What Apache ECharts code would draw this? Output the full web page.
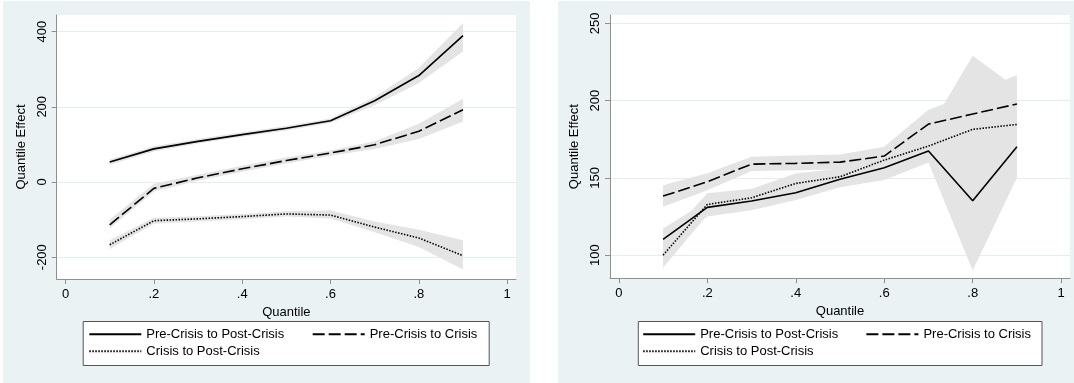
<!DOCTYPE html>
<html><head><meta charset="utf-8">
<script src="https://cdn.jsdelivr.net/npm/echarts@6/dist/echarts.min.js"></script>
<style>
html,body{margin:0;padding:0;background:#fff;width:1074px;height:383px;overflow:hidden}
#c1{position:absolute;left:3px;top:1px;width:527px;height:382px;background:#eaf2f3}
#c2{position:absolute;left:558px;top:1px;width:516px;height:382px;background:#eaf2f3}
</style></head><body>
<div id="c1"></div><div id="c2"></div>
<script>
const quantiles = [0.1, 0.2, 0.3, 0.4, 0.5, 0.6, 0.7, 0.8, 0.9];
const xTicks = [0, 0.2, 0.4, 0.6, 0.8, 1];
const xTickLabels = ['0', '.2', '.4', '.6', '.8', '1'];
const seriesNames = ['Pre-Crisis to Post-Crisis', 'Pre-Crisis to Crisis', 'Crisis to Post-Crisis'];

// Left panel
const leftYTicks = [-200, 0, 200, 400];
const leftYTickLabels = ['-200', '0', '200', '400'];
const leftPrePost   = [53, 88, 108, 126, 143, 163, 216, 283, 389];
const leftPrePostLo = [46, 81, 102, 120, 137, 157, 204, 263, 347];
const leftPrePostHi = [60, 95, 114, 132, 149, 169, 226, 303, 423];
const leftPreCrisis   = [-114, -17, 11, 35, 57, 77, 99, 135, 192];
const leftPreCrisisLo = [-124, -25, 3, 27, 49, 70, 88, 114, 161];
const leftPreCrisisHi = [-100, -5, 19, 43, 65, 84, 108, 155, 221];
const leftCrisisPost   = [-167, -103, -98, -92, -85, -88, -120, -149, -196];
const leftCrisisPostLo = [-178, -111, -105, -99, -92, -97, -134, -173, -233];
const leftCrisisPostHi = [-155, -95, -91, -85, -78, -76, -105, -127, -155];

// Right panel
const rightYTicks = [100, 150, 200, 250];
const rightYTickLabels = ['100', '150', '200', '250'];
const rightPrePost   = [110.2, 130.9, 135, 140.4, 149.1, 156.5, 167.4, 135.2, 170.1];
const rightPrePostLo = [103, 125, 129, 135.6, 144, 148.6, 160, 90, 150];
const rightPrePostHi = [117.3, 135, 139, 145, 154, 161, 181, 229, 208];
const rightPreCrisis   = [138.2, 147.5, 158.9, 159.4, 160.2, 164.1, 184.8, 191.3, 197.8];
const rightPreCrisisLo = [131.3, 142, 154.4, 155, 155.5, 158.5, 176, 176, 179];
const rightPreCrisisHi = [145.3, 153, 163.7, 164.5, 165.2, 170.1, 194, 205, 216.6];
const rightCrisisPost   = [100, 132.8, 137.1, 146.4, 150.7, 161.5, 170.6, 181.4, 184.6];
const rightCrisisPostLo = [91.8, 126, 132, 140, 145, 155, 163, 167, 160];
const rightCrisisPostHi = [108, 140, 143, 152.9, 156, 168, 180, 196, 205];

const FONT = '"Liberation Sans", Arial, sans-serif';
const AXIS_COLOR = '#8f8f8f';
const lineTypes = ['solid', [12, 4], [1.5, 1.5]];

function labelFor(ticks, labels) {
  return function (v) {
    let best = 0;
    for (let i = 1; i < ticks.length; i++) if (Math.abs(ticks[i] - v) < Math.abs(ticks[best] - v)) best = i;
    return labels[best];
  };
}

function buildOption(cfg) {
  const bands = cfg.bands.map(function (b) {
    return {
      type: 'custom', silent: true, z: 1, animation: false,
      data: quantiles.map(function (q, i) { return [q, b.lo[i], b.hi[i]]; }),
      encode: { x: 0, y: [1, 2] },
      renderItem: function (params, api) {
        if (params.dataIndex !== 0) return;
        const pts = [];
        for (let i = 0; i < quantiles.length; i++) pts.push(api.coord([quantiles[i], b.hi[i]]));
        for (let i = quantiles.length - 1; i >= 0; i--) pts.push(api.coord([quantiles[i], b.lo[i]]));
        return { type: 'polygon', shape: { points: pts }, style: { fill: '#e4e4e4' } };
      }
    };
  });
  const lines = cfg.lines.map(function (vals, k) {
    return {
      type: 'line', name: seriesNames[k], z: 3, silent: true, animation: false,
      data: quantiles.map(function (q, i) { return [q, vals[i]]; }),
      symbol: 'none',
      itemStyle: { color: '#000' },
      lineStyle: { color: '#000', width: 1.6, type: lineTypes[k] }
    };
  });
  const legendCommon = {
    orient: 'vertical', itemWidth: 52, itemHeight: 14, itemGap: 4, padding: 0,
    selectedMode: false,
    itemStyle: { opacity: 0, borderWidth: 0 },
    textStyle: { fontSize: 13, color: '#000', fontFamily: FONT }
  };
  return {
    animation: false,
    grid: { left: cfg.grid.left, top: cfg.grid.top, width: cfg.grid.width, height: cfg.grid.height,
            show: true, backgroundColor: '#fff', borderWidth: 0 },
    xAxis: {
      type: 'value', min: -0.02, max: 1.02,
      name: 'Quantile', nameLocation: 'middle', nameGap: 21,
      nameTextStyle: { fontSize: 13, color: '#000', fontFamily: FONT },
      axisLine: { show: true, onZero: false, lineStyle: { color: AXIS_COLOR, width: 1 } },
      axisTick: { show: true, length: 5, customValues: xTicks, lineStyle: { color: AXIS_COLOR } },
      axisLabel: { customValues: xTicks, formatter: labelFor(xTicks, xTickLabels), margin: 9,
                   fontSize: 13, color: '#000', fontFamily: FONT },
      splitLine: { show: false }
    },
    yAxis: {
      type: 'value', min: cfg.yMin, max: cfg.yMax,
      name: 'Quantile Effect', nameLocation: 'middle', nameGap: 23,
      nameTextStyle: { fontSize: 13, color: '#000', fontFamily: FONT },
      axisLine: { show: true, onZero: false, lineStyle: { color: AXIS_COLOR, width: 1 } },
      axisTick: { show: true, length: 5, customValues: cfg.yTicks, lineStyle: { color: AXIS_COLOR } },
      axisLabel: { customValues: cfg.yTicks, formatter: labelFor(cfg.yTicks, cfg.yTickLabels), rotate: 90,
                   margin: 8, fontSize: 13, color: '#000', fontFamily: FONT },
      splitLine: { show: true, lineStyle: { color: '#e3eef0', width: 1 } }
    },
    legend: [
      Object.assign({}, legendCommon, { left: cfg.legendX1, top: 326.7, data: [seriesNames[0], seriesNames[2]] }),
      Object.assign({}, legendCommon, { left: cfg.legendX2, top: 326.7, data: [seriesNames[1]] })
    ],
    graphic: [{
      type: 'rect', z: 0, left: cfg.boxX, top: 320,
      shape: { width: cfg.boxW, height: 44 },
      style: { fill: '#fff', stroke: '#555', lineWidth: 1 }
    }],
    series: bands.concat(lines)
  };
}

const c1 = echarts.init(document.getElementById('c1'), null, { renderer: 'canvas' });
c1.setOption(buildOption({
  grid: { left: 53.7, top: 14, width: 459.3, height: 264 },
  yMin: -258, yMax: 444, yTicks: leftYTicks, yTickLabels: leftYTickLabels,
  bands: [
    { lo: leftPrePostLo, hi: leftPrePostHi },
    { lo: leftPreCrisisLo, hi: leftPreCrisisHi },
    { lo: leftCrisisPostLo, hi: leftCrisisPostHi }
  ],
  lines: [leftPrePost, leftPreCrisis, leftCrisisPost],
  legendX1: 85.3, legendX2: 308.7, boxX: 79.7, boxW: 406
}));

const c2 = echarts.init(document.getElementById('c2'), null, { renderer: 'canvas' });
c2.setOption(buildOption({
  grid: { left: 52, top: 14, width: 460, height: 263.3 },
  yMin: 85, yMax: 255.4, yTicks: rightYTicks, yTickLabels: rightYTickLabels,
  bands: [
    { lo: rightPrePostLo, hi: rightPrePostHi },
    { lo: rightPreCrisisLo, hi: rightPreCrisisHi },
    { lo: rightCrisisPostLo, hi: rightCrisisPostHi }
  ],
  lines: [rightPrePost, rightPreCrisis, rightCrisisPost],
  legendX1: 84.2, legendX2: 307.4, boxX: 79.8, boxW: 403.7
}));
</script>
</body></html>
